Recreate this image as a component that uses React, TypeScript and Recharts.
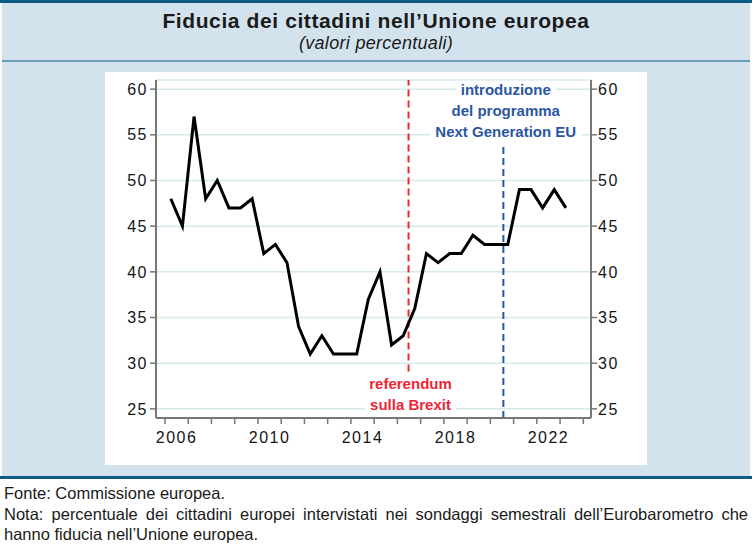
import { useLayoutEffect, useRef, useState } from "react";
import { LineChart, Line, XAxis, YAxis, CartesianGrid, ReferenceLine } from "recharts";

// Eurobarometro, indagini semestrali (primavera / autunno)
const periods = [
  2006.25, 2006.75, 2007.25, 2007.75, 2008.25, 2008.75, 2009.25, 2009.75,
  2010.25, 2010.75, 2011.25, 2011.75, 2012.25, 2012.75, 2013.25, 2013.75,
  2014.25, 2014.75, 2015.25, 2015.75, 2016.25, 2016.75, 2017.25, 2017.75,
  2018.25, 2018.75, 2019.25, 2019.75, 2020.25, 2020.75, 2021.25, 2021.75,
  2022.25, 2022.75, 2023.25,
];
const trust = [
  48, 45, 57, 48, 50, 47, 47, 48, 42, 43, 41, 34, 31, 33, 31, 31, 31, 37,
  40, 32, 33, 36, 42, 41, 42, 42, 44, 43, 43, 43, 49, 49, 47, 49, 47,
];

const yearTicks = [
  2006, 2007, 2008, 2009, 2010, 2011, 2012, 2013, 2014, 2015, 2016, 2017,
  2018, 2019, 2020, 2021, 2022, 2023, 2024,
];
const yearLabels = [2006, 2010, 2014, 2018, 2022];
const valueTicks = [25, 30, 35, 40, 45, 50, 55, 60];

const brexitDate = 2016.48;
const brexitLine = [29.1, 61];
const brexitNote = ["referendum", "sulla Brexit"];
const ngeuDate = 2020.56;
const ngeuLine = [24, 54];
const ngeuNote = ["introduzione", "del programma", "Next Generation EU"];

const data = periods.map((p, i) => ({ period: p, trust: trust[i] }));

const FONT = '"Liberation Sans", Arial, Helvetica, sans-serif';
const RED = "#ee2535";
const BLUE = "#2b56a3";
const AXIS = "#777777";
const X_DOMAIN: [number, number] = [2005.613, 2024.331];
const Y_DOMAIN: [number, number] = [24, 61];

const CHART_W = 542;
const CHART_H = 393;
const LEFT_W = 51;
const RIGHT_W = 56;
// year labels sit in the middle of each year
const HALF_YEAR = (CHART_W - LEFT_W - RIGHT_W) / (X_DOMAIN[1] - X_DOMAIN[0]) / 2;

const tickText = { fontSize: 16, fill: "#151515", letterSpacing: 1.5, fontFamily: FONT };

function YearTick(props: any) {
  const { x, y, payload } = props;
  if (!yearLabels.includes(payload.value)) return null;
  return (
    <text x={x + HALF_YEAR} y={y} dy="0.71em" textAnchor="middle" {...tickText}>
      {payload.value}
    </text>
  );
}

function BoxedText({ x, y, text, color }: { x: number; y: number; text: string; color: string }) {
  const ref = useRef<SVGTextElement>(null);
  const [box, setBox] = useState<{ x: number; y: number; w: number; h: number } | null>(null);
  useLayoutEffect(() => {
    if (!ref.current) return;
    const b = ref.current.getBBox();
    setBox({ x: b.x, y: b.y, w: b.width, h: b.height });
  }, [x, y, text]);
  return (
    <g>
      {box && <rect x={box.x - 5} y={box.y} width={box.w + 10} height={box.h} fill="#ffffff" />}
      <text
        ref={ref}
        x={x}
        y={y}
        textAnchor="middle"
        dominantBaseline="central"
        fill={color}
        fontSize={15}
        fontWeight="bold"
        fontFamily={FONT}
      >
        {text}
      </text>
    </g>
  );
}

function noteAbove(lines: string[], color: string) {
  return (props: any) => {
    const { x, y } = props.viewBox;
    return (
      <g>
        {lines.map((t, i) => (
          <BoxedText key={t} x={x + 2.4} y={y - 12.3 - (lines.length - 1 - i) * 21.2} text={t} color={color} />
        ))}
      </g>
    );
  };
}

function noteBelow(lines: string[], color: string) {
  return (props: any) => {
    const { x, y, height } = props.viewBox;
    return (
      <g>
        {lines.map((t, i) => (
          <BoxedText key={t} x={x + 2} y={y + height + 12.3 + i * 21} text={t} color={color} />
        ))}
      </g>
    );
  };
}

export default function App() {
  return (
    <div style={{ position: "absolute", left: 0, top: 0, width: 752, height: 550, background: "#ffffff", fontFamily: FONT, overflow: "hidden" }}>
      <div style={{ position: "absolute", left: 0, top: 0, width: 752, height: 3, background: "#0f5a85" }} />
      <div style={{ position: "absolute", left: 2, top: 3, width: 748, height: 473, background: "#d3e3ed" }} />
      <div style={{ position: "absolute", left: 2, top: 60, width: 748, height: 2, background: "#6f9db6" }} />
      <div style={{ position: "absolute", left: 0, top: 476, width: 752, height: 3, background: "#0f5a85" }} />

      <div style={{ position: "absolute", left: 0, top: 9, width: 752, textAlign: "center", fontSize: 21, lineHeight: "24px", fontWeight: "bold", letterSpacing: 0.6, color: "#1a1a1a" }}>
        Fiducia dei cittadini nell’Unione europea
      </div>
      <div style={{ position: "absolute", left: 0, top: 32, width: 752, textAlign: "center", fontSize: 18, lineHeight: "22px", fontStyle: "italic", letterSpacing: 0.3, color: "#1a1a1a" }}>
        (valori percentuali)
      </div>

      <div style={{ position: "absolute", left: 105, top: 72, width: CHART_W, height: CHART_H, background: "#ffffff" }}>
        <LineChart width={CHART_W} height={CHART_H} data={data} margin={{ top: 8, right: 0, bottom: 0, left: 0 }}>
          <CartesianGrid vertical={false} stroke="#d6eaea" strokeWidth={1.5} yAxisId="left" />
          <XAxis
            type="number"
            dataKey="period"
            domain={X_DOMAIN}
            allowDataOverflow
            ticks={yearTicks}
            interval={0}
            tick={<YearTick />}
            tickSize={6}
            tickMargin={8}
            height={47}
            axisLine={{ stroke: AXIS, strokeWidth: 2 }}
            tickLine={{ stroke: AXIS, strokeWidth: 1.5 }}
          />
          <YAxis
            yAxisId="left"
            orientation="left"
            domain={Y_DOMAIN}
            allowDataOverflow
            ticks={valueTicks}
            interval={0}
            width={LEFT_W}
            tickSize={6}
            tickMargin={2}
            tick={tickText}
            axisLine={{ stroke: AXIS, strokeWidth: 2 }}
            tickLine={{ stroke: AXIS, strokeWidth: 1.5 }}
          />
          <YAxis
            yAxisId="right"
            orientation="right"
            domain={Y_DOMAIN}
            allowDataOverflow
            ticks={valueTicks}
            interval={0}
            width={RIGHT_W}
            tickSize={6}
            tickMargin={1}
            tick={tickText}
            axisLine={{ stroke: AXIS, strokeWidth: 2 }}
            tickLine={{ stroke: AXIS, strokeWidth: 1.5 }}
          />
          <ReferenceLine
            yAxisId="left"
            segment={[{ x: brexitDate, y: brexitLine[0] }, { x: brexitDate, y: brexitLine[1] }]}
            stroke={RED}
            strokeWidth={2}
            strokeDasharray="7 4"
            label={noteBelow(brexitNote, RED)}
          />
          <ReferenceLine
            yAxisId="left"
            segment={[{ x: ngeuDate, y: ngeuLine[0] }, { x: ngeuDate, y: ngeuLine[1] }]}
            stroke={BLUE}
            strokeWidth={2}
            strokeDasharray="7 4"
            label={noteAbove(ngeuNote, BLUE)}
          />
          <Line
            yAxisId="left"
            type="linear"
            dataKey="trust"
            stroke="#000000"
            strokeWidth={3}
            strokeLinejoin="miter"
            dot={false}
            activeDot={false}
            isAnimationActive={false}
          />
        </LineChart>
      </div>

      <div style={{ position: "absolute", left: 4, top: 483, width: 744, fontSize: 16.5, lineHeight: "20.5px", color: "#1a1a1a" }}>
        <div>Fonte: Commissione europea.</div>
        <div style={{ textAlign: "justify", textAlignLast: "justify" }}>
          Nota: percentuale dei cittadini europei intervistati nei sondaggi semestrali dell’Eurobarometro che
        </div>
        <div>hanno fiducia nell’Unione europea.</div>
      </div>
    </div>
  );
}
